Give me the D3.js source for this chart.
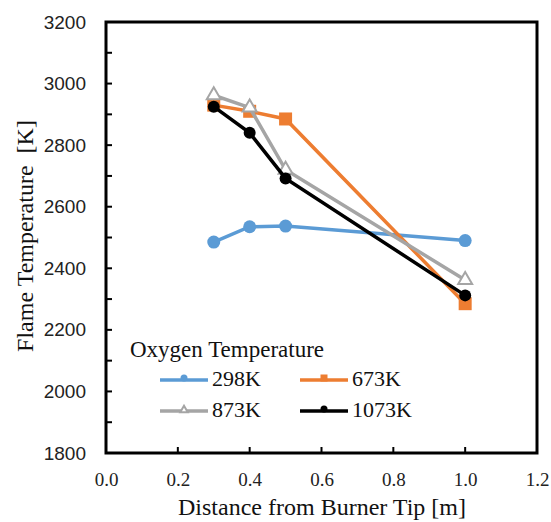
<!DOCTYPE html>
<html>
<head>
<meta charset="utf-8">
<script src="https://cdn.jsdelivr.net/npm/d3@7"></script>
</head>
<body style="margin:0">
<script>
// chart data
var distances = [0.3, 0.4, 0.5, 1.0];
var seriesNames = ['298K', '673K', '873K', '1073K'];
var temps298 = [2485, 2535, 2537, 2490];
var temps673 = [2930, 2910, 2885, 2285];
var temps873 = [2962, 2922, 2720, 2362];
var temps1073 = [2925, 2840, 2692, 2312];
var xTicks = [0.0, 0.2, 0.4, 0.6, 0.8, 1.0, 1.2];
var yTicks = [1800, 2000, 2200, 2400, 2600, 2800, 3000, 3200];

var colors = ['#5b9bd5', '#ed7d31', '#a5a5a5', '#000000'];
var markers = ['circle', 'square', 'triangle', 'circle'];
var allSeries = [temps298, temps673, temps873, temps1073];

var svg = d3.select('body').append('svg').attr('width', 551).attr('height', 522);

var plotLeft = 106, plotRight = 537, plotTop = 22, plotBottom = 453;

var x = d3.scaleLinear().domain([0, 1.2]).range([plotLeft, plotRight]);
var y = d3.scaleLinear().domain([1800, 3200]).range([plotBottom, plotTop]);

// plot frame, drawn first as a plain box
svg.append('rect')
   .attr('x', plotLeft).attr('y', plotTop)
   .attr('width', plotRight - plotLeft).attr('height', plotBottom - plotTop)
   .attr('fill', 'none').attr('stroke', 'black').attr('stroke-width', 3);

// axis labels from the generators, tick marks drawn separately
var xAxis = d3.axisBottom(x).tickValues(xTicks).tickSize(0)
              .tickFormat(d3.format('.1f')).tickPadding(20);
var yAxis = d3.axisLeft(y).tickValues(yTicks).tickSize(0)
              .tickFormat(d3.format('d')).tickPadding(20);

var gx = svg.append('g').attr('transform', 'translate(0,' + plotBottom + ')').call(xAxis);
gx.select('.domain').remove();
gx.selectAll('text').attr('font-family', 'Liberation Serif').attr('font-size', 19)
  .attr('fill', '#222');

var gy = svg.append('g').attr('transform', 'translate(' + plotLeft + ',0)').call(yAxis);
gy.select('.domain').remove();
gy.selectAll('text').attr('font-family', 'Liberation Sans')
  .attr('font-size', 19).attr('fill', '#222');

var line = d3.line()
             .x(function(d, i) { return x(distances[i]); })
             .y(function(d) { return y(d); });

function drawMarker(g, type, color, cx, cy, s) {
  if (type === 'circle') {
    g.append('circle').attr('cx', cx).attr('cy', cy).attr('r', s / 2)
     .attr('fill', color);
  } else if (type === 'square') {
    g.append('rect').attr('x', cx - s / 2).attr('y', cy - s / 2)
     .attr('width', s).attr('height', s).attr('fill', color);
  } else {
    var sym = d3.symbol().type(d3.symbolTriangle).size(s * s * 0.5);
    g.append('path').attr('d', sym)
     .attr('transform', 'translate(' + cx + ',' + cy + ')')
     .attr('fill', '#fff').attr('stroke', color).attr('stroke-width', 2);
  }
}

allSeries.forEach(function(vals, k) {
  var g = svg.append('g');
  g.append('path')
   .datum(vals)
   .attr('d', line)
   .attr('fill', 'none')
   .attr('stroke', colors[k])
   .attr('stroke-width', 3.5);
  vals.forEach(function(v, i) {
    drawMarker(g, markers[k], colors[k], x(distances[i]), y(v), k === 3 ? 12 : 13);
  });
});

// inside tick marks
var ticks = svg.append('g');
d3.range(1800, 3201, 100).forEach(function(t) {
  ticks.append('line').attr('x1', plotLeft).attr('x2', plotLeft + 6)
       .attr('y1', y(t)).attr('y2', y(t))
       .attr('stroke', 'black').attr('stroke-width', 2);
});
xTicks.forEach(function(t) {
  ticks.append('line').attr('x1', x(t)).attr('x2', x(t))
       .attr('y1', plotBottom).attr('y2', plotBottom - 6)
       .attr('stroke', 'black').attr('stroke-width', 2);
});

// legend
var leg = svg.append('g');
leg.append('text').attr('x', 130).attr('y', 357)
   .attr('font-family', 'Liberation Serif').attr('font-size', 23)
   .attr('fill', '#111').text('Oxygen Temperature');

var legPos = [[160, 380], [300, 380], [160, 411], [300, 411]];
seriesNames.forEach(function(name, k) {
  var lx = legPos[k][0], ly = legPos[k][1];
  leg.append('line').attr('x1', lx).attr('x2', lx + 48)
     .attr('y1', ly).attr('y2', ly)
     .attr('stroke', colors[k]).attr('stroke-width', 3.5);
  drawMarker(leg, markers[k], colors[k], lx + 24, ly - (markers[k] === 'triangle' ? 1 : 2), 7);
  leg.append('text').attr('x', lx + 52).attr('y', ly + 6)
     .attr('font-family', 'Liberation Serif').attr('font-size', 22)
     .attr('fill', '#111').text(name);
});

// axis titles
svg.append('text').attr('x', 322).attr('y', 515)
   .attr('text-anchor', 'middle')
   .attr('font-family', 'Liberation Serif').attr('font-size', 24)
   .attr('fill', '#111').text('Distance from Burner Tip [m]');

svg.append('text')
   .attr('transform', 'translate(33,236) rotate(-90)')
   .attr('text-anchor', 'middle')
   .attr('font-family', 'Liberation Serif').attr('font-size', 24)
   .attr('fill', '#111').text('Flame Temperature\u00a0\u00a0[K]');
</script>
</body>
</html>
